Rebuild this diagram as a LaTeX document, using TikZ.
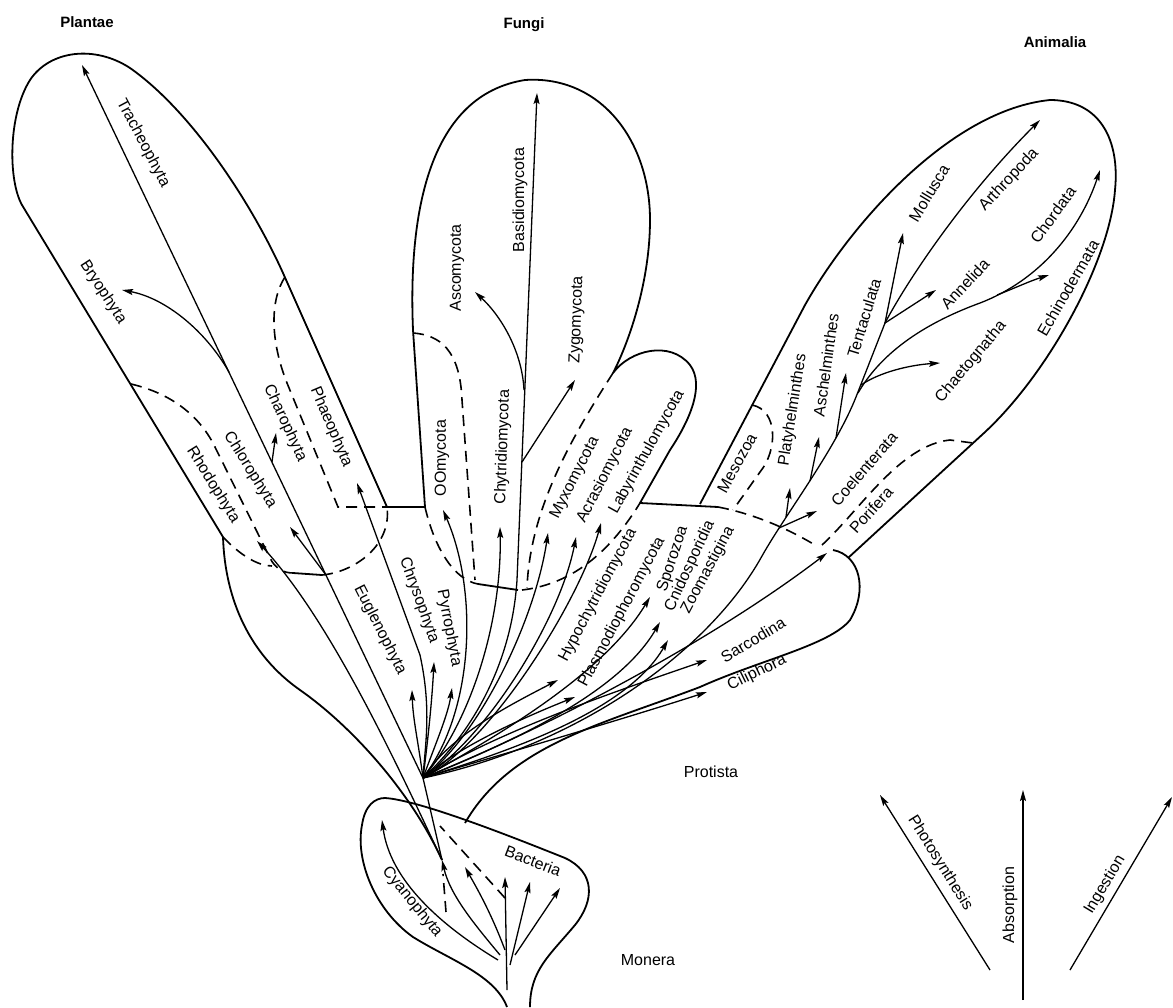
\documentclass[tikz,border=0pt]{standalone}
\usepackage{fontspec}
\setmainfont{Liberation Sans}
\usetikzlibrary{arrows.meta}
\begin{document}
\begin{tikzpicture}[x=1pt,y=-1pt,
  outline/.style={line width=1.8pt,line join=round},
  branch/.style={line width=1.3pt},
  arr/.style={branch,-{Stealth[length=11pt,width=6pt,inset=2pt]}},
  dsh/.style={line width=1.6pt,dash pattern=on 11pt off 7pt},
  lab/.style={font=\fontsize{16}{18}\selectfont,inner sep=0pt},
  ttl/.style={font=\fontsize{15}{17}\selectfont\bfseries,inner sep=0pt},
]
\fill[white] (0,0) rectangle (1173,1007);
\useasboundingbox (0,0) rectangle (1173,1007);

% key points
\coordinate (R) at (423,778);   % protist root
\coordinate (M1) at (442,860);  % monera -> protista
\coordinate (trB) at (229,372); % Bryophyta branch
\coordinate (trC) at (272,462); % Charophyta branch
\coordinate (trL) at (326,575); % Chlorophyta branch
\coordinate (aB) at (885,323);  % animal branch point

% ---------- outlines ----------
\draw[outline] (M1) .. controls (410,790) and (350,725) .. (300,690)
  .. controls (250,655) and (225,600) .. (223,537) -- (22,205)
  .. controls (8,180) and (8,115) .. (30,80)
  .. controls (50,50) and (95,45) .. (130,68)
  .. controls (190,110) and (250,200) .. (283,273) -- (387,507) -- (425,507)
  -- (413,330) .. controls (408,210) and (430,95) .. (525,80)
  .. controls (600,75) and (650,140) .. (650,220)
  .. controls (650,280) and (630,340) .. (613,373)
  .. controls (630,350) and (670,340) .. (690,365)
  .. controls (705,385) and (690,420) .. (670,450) -- (640,503) -- (718,507);
\draw[outline] (700,504) -- (805,305) .. controls (850,225) and (950,110) .. (1050,100)
  .. controls (1100,100) and (1120,140) .. (1115,190)
  .. controls (1110,260) and (1049,373) .. (984,433) -- (848,558);
\draw[outline] (833,550) .. controls (860,555) and (868,590) .. (850,620)
  .. controls (830,645) and (760,660) .. (700,687)
  .. controls (600,725) and (510,745) .. (465,823);
\draw[outline] (507,1007) .. controls (495,975) and (450,960) .. (413,937)
  .. controls (375,910) and (355,860) .. (362,825)
  .. controls (365,805) and (375,798) .. (385,798)
  .. controls (420,800) and (520,840) .. (565,858)
  .. controls (595,872) and (595,900) .. (575,925)
  .. controls (550,955) and (530,970) .. (530,1007);

% ---------- dashed boundaries ----------
\draw[dsh] (285,277) .. controls (270,300) and (270,340) .. (287,383) -- (338,507) -- (387,507);
\draw[dsh] (131,384) .. controls (165,392) and (195,410) .. (213,443) -- (270,558)
  .. controls (275,568) and (283,573) .. (293,573);
\draw[outline] (293,573) -- (322,575);
\draw[dsh] (322,575) .. controls (355,572) and (392,545) .. (387,507);
\draw[dsh] (223,537) .. controls (240,555) and (258,566) .. (272,566);
\draw[dsh] (413,333) .. controls (440,335) and (460,350) .. (462,400) -- (475,580);
\draw[dsh] (425,507) .. controls (435,550) and (455,580) .. (478,584);
\draw[outline] (478,584) -- (518,590);
\draw[dsh] (522,590) .. controls (565,585) and (605,560) .. (640,503);
\draw[dsh] (613,373) .. controls (570,440) and (530,510) .. (527,588);
\draw[dsh] (718,507) .. controls (760,515) and (795,533) .. (815,545);
\draw[dsh] (822,545) .. controls (860,510) and (900,445) .. (950,440) -- (973,443);
\draw[dsh] (752,405) .. controls (778,410) and (778,450) .. (760,472) -- (733,510);
\draw[dsh] (505,898) -- (440,826);
\draw[dsh] (446,912) -- (443,874);

% ---------- Plantae lines ----------
\draw[arr] (R) -- (82,65);
\draw[arr] (trB) .. controls (205,330) and (165,298) .. (122,290);
\draw[arr] (trC) -- (276,433);
\draw[arr] (trL) -- (290,527);
\draw[arr] (M1) .. controls (395,760) and (330,620) .. (257,541);
\draw[arr] (R) .. controls (425,745) and (432,710) .. (420,655) -- (357,483);
\draw[branch] (R) -- (M1);

% ---------- Protista fan ----------
\draw[arr] (R) .. controls (418,740) and (413,720) .. (412,690);
\draw[arr] (R) .. controls (428,740) and (432,700) .. (434,662);
\draw[arr] (R) .. controls (435,745) and (448,715) .. (452,688);
\draw[arr] (R) .. controls (475,710) and (478,590) .. (443,510);
\draw[arr] (R) .. controls (472,720) and (502,620) .. (500,527);
\draw[arr] (R) .. controls (475,730) and (512,660) .. (517,580) -- (537,93);
\draw[arr] (524,390) .. controls (522,350) and (500,315) .. (475,292);
\draw[arr] (522,462) -- (575,380);
\draw[arr] (R) .. controls (480,735) and (535,620) .. (548,533);
\draw[arr] (R) .. controls (485,740) and (560,620) .. (576,537);
\draw[arr] (R) .. controls (490,745) and (580,600) .. (601,523);
\draw[arr] (R) .. controls (450,735) and (510,705) .. (558,680);
\draw[arr] (R) .. controls (460,745) and (530,715) .. (575,697);
\draw[arr] (R) .. controls (480,745) and (600,680) .. (650,597);
\draw[arr] (R) .. controls (490,750) and (615,700) .. (660,622);
\draw[arr] (R) .. controls (495,755) and (625,715) .. (668,640);
\draw[arr] (R) .. controls (500,730) and (620,690) .. (707,660);
\draw[arr] (R) .. controls (500,755) and (620,720) .. (707,692);
\draw[arr] (R) .. controls (520,740) and (700,650) .. (827,553);

% ---------- Animalia ----------
\draw[branch] (R) .. controls (580,745) and (710,650) .. (762,556)
  .. controls (785,515) and (835,450) .. (856,397) -- (aB);
\draw[arr] (779,528) -- (817,511);
\draw[arr] (786,517) -- (790,488);
\draw[arr] (810,481) -- (819,437);
\draw[arr] (836,438) -- (846,373);
\draw[arr] (861,385) .. controls (880,372) and (910,365) .. (940,363);
\draw[arr] (858,393) .. controls (880,355) and (920,325) .. (980,303)
  .. controls (1040,280) and (1080,230) .. (1100,170);
\draw[arr] (997,295) .. controls (1015,288) and (1030,281) .. (1049,275);
\draw[arr] (aB) -- (936,290);
\draw[arr] (aB) -- (903,233);
\draw[arr] (aB) .. controls (905,285) and (960,200) .. (1040,120);

% ---------- Monera ----------
\draw[arr] (507,990) -- (505,877);
\draw[arr] (510,965) -- (530,882);
\draw[arr] (515,955) -- (560,888);
\draw[arr] (505,950) .. controls (490,910) and (475,885) .. (465,867);
\draw[arr] (500,955) .. controls (475,925) and (450,895) .. (M1);
\draw[arr] (498,960) .. controls (440,925) and (390,880) .. (382,820);

% ---------- legend ----------
\coordinate (p0) at (990,970); \coordinate (p1) at (880,795);
\coordinate (a0) at (1023,1000); \coordinate (a1) at (1023,790);
\coordinate (i0) at (1070,970); \coordinate (i1) at (1172,797);
\draw[arr] (p0) -- (p1);
\draw[arr] (a0) -- (a1);
\draw[arr] (i0) -- (i1);

% ---------- titles ----------
\node[ttl] (tPl) at (87,22) {Plantae};
\node[ttl] (tFu) at (524,25) {Fungi};
\node[ttl] (tAn) at (1055,42) {Animalia};
\node[lab] (tPr) at (711,772) {Protista};
\node[lab] (tMo) at (648,960) {Monera};

% ---------- labels ----------
\node[lab,rotate=-62] (lTr) at (143,143) {Tracheophyta};
\node[lab,rotate=-57] (lBr) at (103,292) {Bryophyta};
\node[lab,rotate=-65] (lCa) at (285,423) {Charophyta};
\node[lab,rotate=-67] (lPh) at (331,427) {Phaeophyta};
\node[lab,rotate=-58] (lCl) at (250,470) {Chlorophyta};
\node[lab,rotate=-58] (lRh) at (213,485) {Rhodophyta};
\node[lab,rotate=-63] (lEu) at (380,630) {Euglenophyta};
\node[lab,rotate=-70] (lCh) at (419,600) {Chrysophyta};
\node[lab,rotate=-79] (lPy) at (449,628) {Pyrrophyta};
\node[lab,rotate=-51] (lCy) at (412,902) {Cyanophyta};
\node[lab,rotate=-21] (lBa) at (533,861) {Bacteria};

\node[lab,rotate=90] (lOO) at (442,458) {OOmycota};
\node[lab,rotate=88] (lCt) at (503,447) {Chytridiomycota};
\node[lab,rotate=90] (lAs) at (457,268) {Ascomycota};
\node[lab,rotate=90] (lBs) at (520,200) {Basidiomycota};
\node[lab,rotate=88] (lZy) at (577,320) {Zygomycota};
\node[lab,rotate=63] (lMy) at (575,478) {Myxomycota};
\node[lab,rotate=63] (lAc) at (605,475) {Acrasiomycota};
\node[lab,rotate=61] (lLa) at (647,452) {Labyrinthulomycota};

\node[lab,rotate=62] (lHy) at (598,595) {Hypochytridiomycota};
\node[lab,rotate=62] (lPl) at (622,612) {Plasmodiophoromycota};
\node[lab,rotate=72] (lSp) at (673,559) {Sporozoa};
\node[lab,rotate=65] (lCn) at (690,566) {Cnidosporidia};
\node[lab,rotate=62] (lZo) at (708,570) {Zoomastigina};
\node[lab,rotate=31] (lSa) at (753,640) {Sarcodina};
\node[lab,rotate=26] (lCi) at (757,673) {Ciliphora};

\node[lab,rotate=61] (lMe) at (737,463) {Mesozoa};
\node[lab,rotate=81] (lPt) at (793,410) {Platyhelminthes};
\node[lab,rotate=82] (lAh) at (826,365) {Aschelminthes};
\node[lab,rotate=73] (lTe) at (864,318) {Tentaculata};
\node[lab,rotate=49] (lCo) at (864,469) {Coelenterata};
\node[lab,rotate=48] (lPo) at (871,510) {Porifera};
\node[lab,rotate=50] (lCg) at (971,362) {Chaetognatha};
\node[lab,rotate=47] (lAn) at (965,284) {Annelida};
\node[lab,rotate=60] (lEc) at (1068,288) {Echinodermata};
\node[lab,rotate=59] (lMo) at (929,193) {Mollusca};
\node[lab,rotate=47] (lAr) at (1009,180) {Arthropoda};
\node[lab,rotate=54] (lCd) at (1053,215) {Chordata};

\node[lab,rotate=-58] (lPhs) at (940,863) {Photosynthesis};
\node[lab,rotate=90] (lAbs) at (1010,905) {Absorption};
\node[lab,rotate=59] (lIng) at (1105,885) {Ingestion};
\end{tikzpicture}
\end{document}
